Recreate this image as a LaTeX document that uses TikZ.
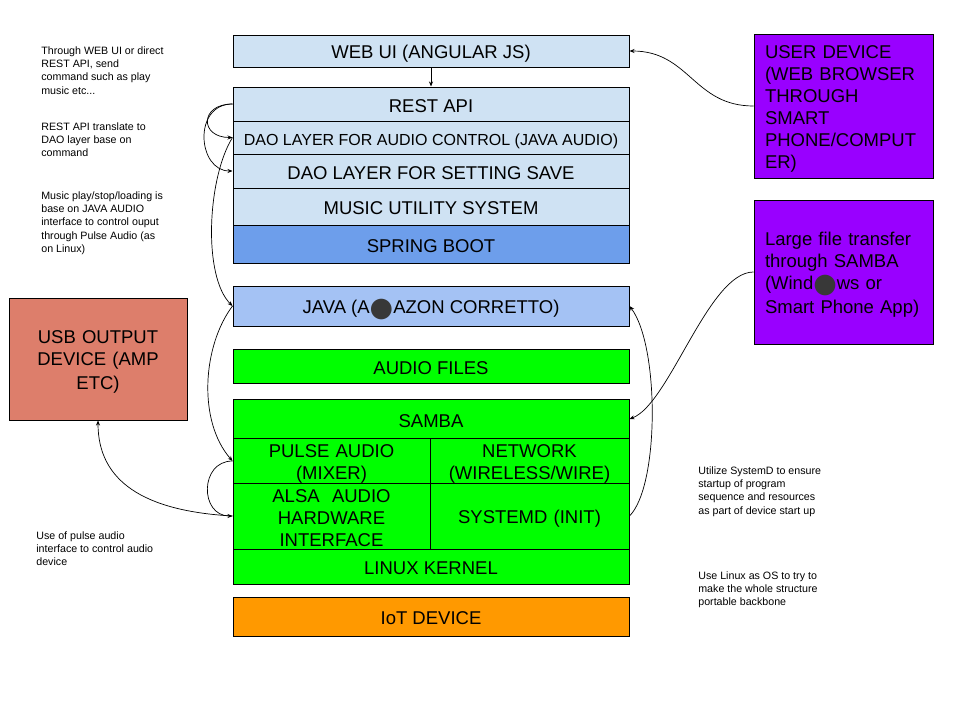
\documentclass[tikz,border=0pt]{standalone}
\usepackage{fontspec}
\setmainfont{Liberation Sans}
\newfontfamily\symbolfont{DejaVu Sans}
\usetikzlibrary{arrows.meta}
\definecolor{paleblue}{HTML}{CFE2F3}
\definecolor{springblue}{HTML}{6D9EEB}
\definecolor{javablue}{HTML}{A4C2F4}
\definecolor{osgreen}{HTML}{00FF00}
\definecolor{iotorange}{HTML}{FF9900}
\definecolor{devpurple}{HTML}{9900FF}
\definecolor{usbsalmon}{HTML}{DD7E6B}
\newcommand{\blackblob}{\smash{\raisebox{-2.5pt}{\symbolfont\fontsize{27}{22}\selectfont\color{black!78}●}}}
\newcommand{\capstrut}{\rule[-2.9pt]{0pt}{22pt}}
\tikzset{
  layer/.style={draw, line width=1pt, minimum width=396pt, inner sep=0pt,
    align=center, font=\fontsize{18.5}{22}\selectfont,
    execute at begin node=\capstrut, execute at end node=\capstrut},
  halflayer/.style={layer, minimum width=197pt, text width=190pt},
  device/.style={draw, line width=1pt, minimum width=179pt, minimum height=144pt,
    fill=devpurple, align=left, text width=157pt, inner sep=0pt,
    font=\fontsize{18.5}{22}\selectfont,
    execute at begin node=\capstrut, execute at end node=\capstrut},
  note/.style={anchor=north west, align=left, inner sep=0pt,
    font=\fontsize{10.67}{13.4}\selectfont}
}
\begin{document}
\begin{tikzpicture}[x=1pt, y=-1pt, line width=0.7pt, >={Stealth[length=5pt,width=4pt]}]
            \fill[white] (0,0) rectangle (960,720);
            \useasboundingbox (0,0) rectangle (960,720);

            % software stack
            \node[layer, fill=paleblue, minimum height=32pt] (webui) at (431, 51) {WEB UI (ANGULAR JS)};
            \node[layer, fill=paleblue, minimum height=34pt] (restapi) at (431, 104) {REST API};
            \node[layer, fill=paleblue, minimum height=33pt, font=\fontsize{16}{22}\selectfont] (daoaudio) at (431, 137.5) {DAO LAYER FOR AUDIO CONTROL (JAVA AUDIO)};
            \node[layer, fill=paleblue, minimum height=34pt] (daoset) at (431, 171) {DAO LAYER FOR SETTING SAVE};
            \node[layer, fill=paleblue, minimum height=37pt] (music) at (431, 206.5) {MUSIC UTILITY SYSTEM};
            \node[layer, fill=springblue, minimum height=38pt] (spring) at (431, 244) {SPRING BOOT};
            \node[layer, fill=javablue, minimum height=40pt] (java) at (431, 306) {JAVA (A\blackblob AZON CORRETTO)};

            % os layers
            \node[layer, fill=osgreen, minimum height=34pt] (audiofiles) at (431, 366) {AUDIO FILES};
            \node[layer, fill=osgreen, minimum height=40pt] (samba) at (431, 419) {SAMBA};
            \node[halflayer, fill=osgreen, minimum height=44pt] (pulse) at (331.5, 461) {PULSE AUDIO\\(MIXER)};
            \node[halflayer, fill=osgreen, minimum height=44pt, minimum width=199pt] (network) at (529.5, 461) {NETWORK\\(WIRELESS/WIRE)};
            \node[halflayer, fill=osgreen, minimum height=66pt] (alsa) at (331.5, 516) {ALSA \ AUDIO\\HARDWARE\\INTERFACE};
            \node[halflayer, fill=osgreen, minimum height=66pt, minimum width=199pt] (systemd) at (529.5, 516) {SYSTEMD (INIT)};
            \node[layer, fill=osgreen, minimum height=35pt] (kernel) at (431, 566.5) {LINUX KERNEL};
            \node[layer, fill=iotorange, minimum height=39pt] (iot) at (431, 616.5) {IoT DEVICE};

            % outside devices
            \node[device] (userdev) at (843.5, 106) {USER DEVICE\\(WEB BROWSER\\THROUGH\\SMART\\PHONE/COMPUT\\ER)};
            \node[device] (filexfer) at (843.5, 272) {Large file transfer\\through SAMBA\\(Wind\blackblob ws or\\Smart Phone App)};
            \node[layer, fill=usbsalmon, minimum width=178pt, text width=170pt, minimum height=122pt] (usbout) at (98, 359) {USB OUTPUT\\DEVICE (AMP\\ETC)};

            % notes
            \node[note] (notecmd) at (41, 46) {Through WEB UI or direct\\REST API, send\\command such as play\\music etc...};
            \node[note] (notedao) at (41, 122) {REST API translate to\\DAO layer base on\\command};
            \node[note] (notejava) at (41, 191) {Music play/stop/loading is\\base on JAVA AUDIO\\interface to control ouput\\through Pulse Audio (as\\on Linux)};
            \node[note] (notepulse) at (36, 531) {Use of pulse audio\\interface to control audio\\device};
            \node[note] (notesysd) at (698, 466) {Utilize SystemD to ensure\\startup of program\\sequence and resources\\as part of device start up};
            \node[note] (notelinux) at (698, 571) {Use Linux as OS to try to\\make the whole structure\\portable backbone};

            % connectors
            \draw[->] (userdev.west) .. controls +(-60,0) and +(60,0) .. (webui.east);
            \draw[->] (webui.south) -- (restapi.north);
            \draw[->] (restapi.west) .. controls +(-33,0) and +(-33,0) .. (daoaudio.west);
            \draw[->] (restapi.west) .. controls +(-40,0) and +(-35,0) .. (daoset.west);
            \draw[->] (daoaudio.west) .. controls +(-25,40) and +(-30,-30) .. (java.west);
            \draw[->] (java.west) .. controls +(-30,40) and +(-35,-40) .. (pulse.west);
            \draw[->] (pulse.west) .. controls +(-33,0) and +(-33,0) .. (alsa.west);
            \draw[->] (alsa.west) .. controls +(-90,-5) and +(0,60) .. (usbout.south);
            \draw[->] (filexfer.west) .. controls +(-45,0) and +(40,-15) .. (samba.east);
            \draw[->] (systemd.east) .. controls +(30,-30) and +(30,40) .. (java.east);
        \end{tikzpicture}
\end{document}
